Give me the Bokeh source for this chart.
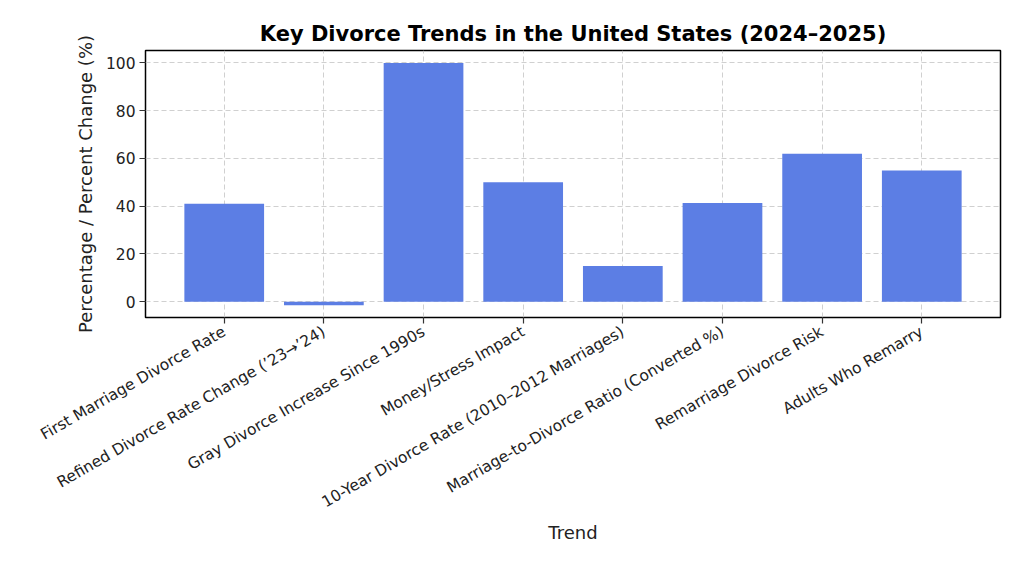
import math

from bokeh.embed import file_html
from bokeh.models import FixedTicker, Range1d
from bokeh.plotting import figure
from bokeh.resources import INLINE

trends = [
    "First Marriage Divorce Rate",
    "Refined Divorce Rate Change (\u201923\u2192\u201924)",
    "Gray Divorce Increase Since 1990s",
    "Money/Stress Impact",
    "10-Year Divorce Rate (2010\u20132012 Marriages)",
    "Marriage-to-Divorce Ratio (Converted %)",
    "Remarriage Divorce Risk",
    "Adults Who Remarry",
]
values = [41, -1.5, 100, 50, 15, 41.3, 62, 55]
y_ticks = [0, 20, 40, 60, 80, 100]

xs = list(range(len(trends)))

p = figure(width=1016, height=546, output_backend="svg", toolbar_location=None,
           x_range=Range1d(-0.79, len(trends) - 1 + 0.79),
           y_range=Range1d(-6.6, 105.2),
           min_border_left=145, min_border_right=16, min_border_top=50,
           min_border_bottom=10)

p.title.text = "Key Divorce Trends in the United States (2024\u20132025)"
p.title.align = "center"
p.title.text_font = "DejaVu Sans"
p.title.text_font_size = "21px"
p.title.text_font_style = "bold"
p.title.text_color = "black"
p.title.standoff = 9

p.vbar(x=xs, top=values, bottom=0, width=0.8, fill_color="#5C7EE4",
       line_color=None)

p.xaxis.ticker = FixedTicker(ticks=xs)
p.xaxis.major_label_overrides = {i: t for i, t in enumerate(trends)}
p.xaxis.major_label_orientation = math.radians(30)
p.yaxis.ticker = FixedTicker(ticks=y_ticks)

for ax in (p.xaxis, p.yaxis):
    ax.major_label_text_font = "DejaVu Sans"
    ax.major_label_text_font_size = "15.5px"
    ax.major_label_text_color = "#222222"
    ax.major_label_standoff = 4
    ax.axis_label_text_font = "DejaVu Sans"
    ax.axis_label_text_font_size = "18px"
    ax.axis_label_text_font_style = "normal"
    ax.axis_label_text_color = "#222222"
    ax.major_tick_out = 6
    ax.major_tick_in = 0
    ax.minor_tick_out = 0
    ax.minor_tick_in = 0
    ax.axis_line_color = None
    ax.major_tick_line_color = "#333333"
    ax.major_tick_line_width = 1.2

p.xaxis.major_label_standoff = 7
p.xaxis.axis_label = "Trend"
p.yaxis.axis_label = "Percentage / Percent Change (%)"
p.xaxis.axis_label_standoff = 0
p.yaxis.axis_label_standoff = 7

p.outline_line_color = "black"
p.outline_line_width = 1.5
p.outline_line_alpha = 1

p.grid.grid_line_color = "#c4c4c4"
p.grid.grid_line_dash = "5 3"
p.grid.grid_line_alpha = 0.8

open("out.html", "w").write(file_html(p, INLINE))
